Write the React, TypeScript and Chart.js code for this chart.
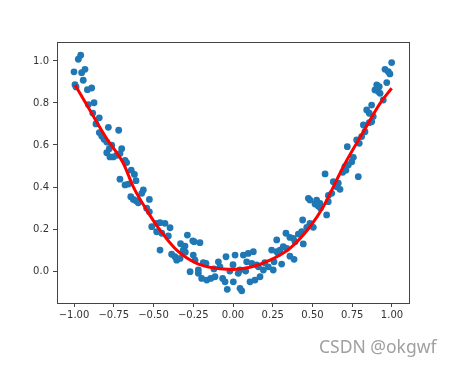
import React, { useEffect, useRef } from "react";
import { Chart, registerables } from "chart.js";

Chart.register(...registerables);

const scatterX = [
  -0.958, -0.973, -1.0, -0.952, -0.931, -0.942, -0.994, -0.987, -0.916, -0.889,
  -0.91, -0.874, -0.882, -0.841, -0.862, -0.784, -0.841, -0.826, -0.811, -0.794,
  -0.719, -0.763, -0.778, -0.794, -0.774, -0.753, -0.731, -0.7, -0.711, -0.679,
  -0.669, -0.64, -0.62, -0.711, -0.679, -0.658, -0.61, -0.643, -0.627, -0.61,
  -0.574, -0.564, -0.596, -0.526, -0.543, -0.526, -0.511, -0.48, -0.459, -0.428,
  -0.396, -0.48, -0.448, -0.407, -0.287, -0.253, -0.459, -0.386, -0.365, -0.354,
  -0.333, -0.313, -0.302, -0.27, -0.218, -0.245, -0.208, -0.25, -0.239, -0.218,
  -0.187, -0.17, -0.197, -0.165, -0.14, -0.113, -0.092, -0.082, -0.044, 0.013,
  -0.065, -0.05, -0.036, 0.002, 0.044, 0.055, 0.033, 0.044, 0.065, 0.096,
  0.128, 0.086, 0.118, 0.149, 0.107, 0.138, 0.17, 0.191, 0.222, 0.243,
  0.275, 0.579, 0.631, 0.652, 0.673, 0.662, 0.621, 0.484, 0.474, 0.526,
  0.547, 0.516, 0.536, 0.599, 0.589, 0.438, 0.484, 0.505, 0.464, 0.432,
  0.411, 0.333, 0.358, 0.379, 0.275, 0.39, 0.442, 0.316, 0.338, 0.296,
  0.285, 0.358, 0.384, 0.258, 0.306, 0.253, 0.998, 0.956, 0.977, 0.987,
  0.967, 0.904, 0.92, 0.893, 0.914, 0.925, 0.945, 0.872, 0.841, 0.857,
  0.882, 0.872, 0.857, 0.82, 0.83, 0.809, 0.794, 0.778, 0.719, 0.757,
  0.747, 0.725, 0.704, 0.788, 0.69, 0.71, -0.12, -0.02, 0.0, 0.08,
  0.16, 0.2, -0.3, -0.33, 0.55, 0.6
];

const scatterY = [
  1.027, 1.008, 0.948, 0.944, 0.96, 0.908, 0.887, 0.876, 0.863, 0.871,
  0.792, 0.801, 0.752, 0.729, 0.7, 0.684, 0.659, 0.643, 0.627, 0.614,
  0.67, 0.599, 0.582, 0.563, 0.543, 0.543, 0.551, 0.582, 0.559, 0.527,
  0.516, 0.48, 0.46, 0.437, 0.41, 0.414, 0.43, 0.354, 0.341, 0.335,
  0.37, 0.386, 0.325, 0.341, 0.299, 0.282, 0.211, 0.227, 0.23, 0.227,
  0.206, 0.187, 0.18, 0.167, 0.171, 0.144, 0.1, 0.08, 0.068, 0.052,
  0.06, 0.1, 0.119, -0.003, -0.011, 0.14, 0.135, 0.076, 0.052, 0.005,
  0.04, 0.037, -0.035, -0.043, -0.035, -0.027, 0.044, 0.02, 0.068, 0.076,
  -0.035, -0.051, -0.087, -0.051, -0.082, -0.094, -0.011, 0.005, 0.076, 0.084,
  0.092, 0.044, 0.037, 0.029, -0.051, -0.043, -0.027, 0.005, 0.02, 0.1,
  0.092, 0.462, 0.425, 0.401, 0.389, 0.418, 0.37, 0.338, 0.346, 0.338,
  0.322, 0.319, 0.31, 0.33, 0.267, 0.243, 0.227, 0.208, 0.208, 0.187,
  0.176, 0.18, 0.16, 0.156, 0.148, 0.14, 0.129, 0.116, 0.108, 0.1,
  0.084, 0.071, 0.056, 0.044, 0.033, 0.005, 0.992, 0.96, 0.949, 0.938,
  0.897, 0.886, 0.878, 0.862, 0.854, 0.846, 0.814, 0.79, 0.767, 0.751,
  0.735, 0.711, 0.706, 0.695, 0.663, 0.64, 0.608, 0.624, 0.592, 0.541,
  0.52, 0.505, 0.497, 0.449, 0.47, 0.48, 0.01, 0.0, 0.03, 0.0,
  0.02, 0.04, 0.09, 0.13, 0.3, 0.36
];

const fitX = [
  -0.994, -0.9, -0.8, -0.69, -0.627, -0.543, -0.459, -0.354, -0.228, -0.12,
  0.0, 0.107, 0.233, 0.358, 0.484, 0.568, 0.652, 0.694, 0.82, 0.925, 0.998
];
const fitY = [
  0.886, 0.765, 0.637, 0.513, 0.401, 0.29, 0.195, 0.1, 0.037, 0.015,
  0.008, 0.018, 0.052, 0.108, 0.211, 0.306, 0.433, 0.497, 0.663, 0.798, 0.87
];

const xTicks = [-1.0, -0.75, -0.5, -0.25, 0.0, 0.25, 0.5, 0.75, 1.0];
const yTicks = [0.0, 0.2, 0.4, 0.6, 0.8, 1.0];

const fmt = (v: number, d: number) => {
  const s = Math.abs(v).toFixed(d);
  return v < -1e-9 ? "\u2212" + s : s;
};

const framePlugin = {
  id: "frame",
  afterDatasetsDraw(chart: any) {
    const { ctx, chartArea } = chart;
    ctx.save();
    ctx.strokeStyle = "#444";
    ctx.lineWidth = 1;
    ctx.strokeRect(
      Math.round(chartArea.left) + 0.5,
      Math.round(chartArea.top) + 0.5,
      Math.round(chartArea.right - chartArea.left),
      Math.round(chartArea.bottom - chartArea.top)
    );
    ctx.restore();
  },
};

export default function App() {
  const ref = useRef<HTMLCanvasElement | null>(null);
  useEffect(() => {
    if (!ref.current) return;
    const font = { family: "DejaVu Sans", size: 10 };
    const chart = new Chart(ref.current, {
      type: "scatter",
      data: {
        datasets: [
          {
            type: "line",
            data: fitX.map((x, i) => ({ x, y: fitY[i] })),
            borderColor: "#ff0000",
            borderWidth: 3,
            pointRadius: 0,
            cubicInterpolationMode: "monotone",
            fill: false,
            order: 0,
          } as any,
          {
            data: scatterX.map((x, i) => ({ x, y: scatterY[i] })),
            backgroundColor: "#1f77b4",
            borderWidth: 0,
            pointRadius: 3.4,
            order: 1,
          },
        ],
      },
      options: {
        animation: false,
        responsive: false,
        maintainAspectRatio: false,
        layout: { padding: { left: 0, right: 45, top: 42, bottom: 27 } },
        plugins: { legend: { display: false }, tooltip: { enabled: false } },
        scales: {
          x: {
            type: "linear",
            min: -1.107,
            max: 1.107,
            afterBuildTicks: (s: any) => {
              s.ticks = xTicks.map((v) => ({ value: v }));
            },
            afterFit: (s: any) => {
              s.height = 40;
            },
            ticks: {
              color: "#333",
              font,
              padding: 2,
              maxRotation: 0,
              callback: (v: any) => fmt(Number(v), 2),
            },
            grid: { drawOnChartArea: false, drawTicks: true, tickLength: 4, color: "#444" },
            border: { display: true, color: "#444" },
          },
          y: {
            type: "linear",
            min: -0.152,
            max: 1.09,
            afterBuildTicks: (s: any) => {
              s.ticks = yTicks.map((v) => ({ value: v }));
            },
            afterFit: (s: any) => {
              s.width = 57;
            },
            ticks: {
              color: "#333",
              font,
              padding: 4,
              callback: (v: any) => fmt(Number(v), 1),
            },
            grid: { drawOnChartArea: false, drawTicks: true, tickLength: 4, color: "#444" },
            border: { display: true, color: "#444" },
          },
        },
      },
      plugins: [framePlugin],
    });
    return () => chart.destroy();
  }, []);

  return (
    <div style={{ position: "fixed", left: 0, top: 0, width: 454, height: 370, background: "#fff" }}>
      <canvas ref={ref} width={454} height={370} style={{ width: 454, height: 370, display: "block" }} />
      <div
        style={{
          position: "absolute",
          left: 319,
          top: 334,
          fontFamily: "'Noto Sans', 'Open Sans', sans-serif",
          fontSize: 17.5,
          color: "#a0a0a0",
          whiteSpace: "nowrap",
        }}
      >
        CSDN @okgwf
      </div>
    </div>
  );
}
